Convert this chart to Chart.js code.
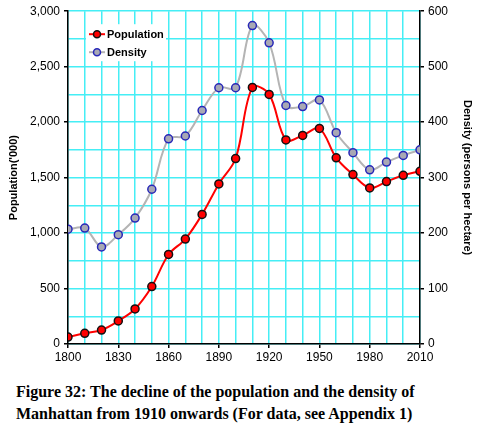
<!DOCTYPE html>
<html>
<head>
<meta charset="utf-8">
<script src="https://cdn.jsdelivr.net/npm/chart.js@4.4.1/dist/chart.umd.min.js"></script>
<style>
  html, body { margin: 0; padding: 0; background: #fff; }
  #wrap { position: relative; width: 486px; height: 366px; }
  #caption {
    position: absolute; left: 16px; top: 381px; margin: 0;
    font-family: 'Liberation Serif', 'DejaVu Serif', serif;
    font-weight: bold; font-size: 16px; line-height: 22px; color: #000;
  }
</style>
</head>
<body>
<div id="wrap"><canvas id="chart"></canvas></div>
<p id="caption">Figure 32: The decline of the population and the density of<br>Manhattan from 1910 onwards (For data, see Appendix 1)</p>
<script>
const years = [1800, 1810, 1820, 1830, 1840, 1850, 1860, 1870, 1880, 1890, 1900,
  1910, 1920, 1930, 1940, 1950, 1960, 1970, 1980, 1990, 2000, 2010];
// thousands of residents
const population = [62, 96, 126, 208, 316, 518, 807, 946, 1168, 1443, 1672,
  2313, 2250, 1840, 1880, 1943, 1678, 1527, 1407, 1464, 1521, 1557];
// persons per hectare
const density = [207, 209, 175, 197, 227, 279, 370, 375, 421, 462, 462,
  574, 543, 430, 428, 440, 381, 345, 314, 328, 340, 350];
const xLabelYears = [1800, 1830, 1860, 1890, 1920, 1950, 1980, 2010];
const popTicks = [0, 500, 1000, 1500, 2000, 2500, 3000];
const densTicks = [0, 100, 200, 300, 400, 500, 600];

const gridCyan = '#45EEF5';
const labelFont = { family: 'Liberation Sans, Arial, sans-serif', size: 12 };

// legend drawn inside the plot area, top-left, on a white box
const innerLegend = {
  id: 'innerLegend',
  afterDatasetsDraw(chart) {
    const ctx = chart.ctx;
    const a = chart.chartArea;
    const x0 = a.left + 18, y0 = a.top + 13;
    ctx.save();
    ctx.fillStyle = '#fff';
    ctx.fillRect(x0, y0, 80, 37);
    const items = [
      { label: 'Population', ds: chart.data.datasets[0], y: y0 + 10 },
      { label: 'Density', ds: chart.data.datasets[1], y: y0 + 28 }
    ];
    items.forEach(it => {
      ctx.strokeStyle = it.ds.borderColor;
      ctx.lineWidth = 2;
      ctx.beginPath();
      ctx.moveTo(x0 + 3, it.y);
      ctx.lineTo(x0 + 19, it.y);
      ctx.stroke();
      ctx.beginPath();
      ctx.arc(x0 + 11, it.y, 3.5, 0, Math.PI * 2);
      ctx.fillStyle = it.ds.pointBackgroundColor;
      ctx.fill();
      ctx.lineWidth = 1.5;
      ctx.strokeStyle = it.ds.pointBorderColor;
      ctx.stroke();
      ctx.fillStyle = '#000';
      ctx.font = 'bold 11px Liberation Sans, Arial, sans-serif';
      ctx.textBaseline = 'middle';
      ctx.fillText(it.label, x0 + 21, it.y + 0.5);
    });
    ctx.restore();
  }
};

new Chart(document.getElementById('chart'), {
  type: 'line',
  data: {
    datasets: [{
      label: 'Population',
      data: years.map((y, i) => ({ x: y, y: population[i] })),
      yAxisID: 'y',
      borderColor: '#FF0000',
      borderWidth: 2,
      pointBackgroundColor: '#FF0000',
      pointBorderColor: '#111',
      pointBorderWidth: 1.5,
      pointRadius: 4,
      tension: 0.35,
      order: 1
    }, {
      label: 'Density',
      data: years.map((y, i) => ({ x: y, y: density[i] })),
      yAxisID: 'y2',
      borderColor: '#B4B4B4',
      borderWidth: 2,
      pointBackgroundColor: '#A8A8B4',
      pointBorderColor: '#2828B8',
      pointBorderWidth: 1.5,
      pointRadius: 4,
      tension: 0.35,
      order: 2
    }]
  },
  options: {
    responsive: true,
    maintainAspectRatio: false,
    animation: false,
    layout: { padding: { top: 8, right: 10, left: 7, bottom: 0 } },
    plugins: { legend: { display: false }, tooltip: { enabled: false } },
    scales: {
      x: {
        type: 'linear',
        min: 1800, max: 2010,
        afterBuildTicks: s => { s.ticks = years.map(v => ({ value: v })); },
        afterFit: s => { s.height = 22; },
        ticks: {
          autoSkip: false, maxRotation: 0, padding: 2,
          color: '#000', font: labelFont,
          callback: v => xLabelYears.includes(v) ? String(v) : ''
        },
        grid: {
          color: gridCyan, lineWidth: 1.5, tickLength: 4,
          tickColor: c => xLabelYears.includes(c.tick && c.tick.value) ? '#000' : 'rgba(0,0,0,0)'
        },
        border: { color: '#000', width: 1.5 }
      },
      y: {
        position: 'left',
        min: 0, max: 3000,
        afterBuildTicks: s => {
          const t = [];
          for (let v = 0; v <= 3000; v += 250) t.push({ value: v });
          s.ticks = t;
        },
        afterFit: s => { s.width = 61; },
        ticks: {
          autoSkip: false, padding: 4,
          color: '#000', font: labelFont,
          callback: v => popTicks.includes(v) ? v.toLocaleString('en-US') : ''
        },
        grid: {
          color: gridCyan, lineWidth: 1.5, tickLength: 4,
          tickColor: c => popTicks.includes(c.tick && c.tick.value) ? '#000' : 'rgba(0,0,0,0)'
        },
        border: { color: '#000', width: 1.5 },
        title: {
          display: true, text: "Population('000)", color: '#000',
          font: { family: 'Liberation Sans, Arial, sans-serif', size: 11, weight: 'bold' },
          padding: { top: 0, bottom: 2 }
        }
      },
      y2: {
        position: 'right',
        min: 0, max: 600,
        afterBuildTicks: s => { s.ticks = densTicks.map(v => ({ value: v })); },
        afterFit: s => { s.width = 56; },
        ticks: {
          autoSkip: false, padding: 4,
          color: '#000', font: labelFont
        },
        grid: { drawOnChartArea: false, color: '#000', tickLength: 4, lineWidth: 1.5 },
        border: { color: '#000', width: 1.5 },
        title: {
          display: true, text: 'Density (persons per hectare)', color: '#000',
          font: { family: 'Liberation Sans, Arial, sans-serif', size: 11, weight: 'bold' },
          padding: { top: 2, bottom: 0 }
        }
      }
    }
  },
  plugins: [innerLegend]
});
</script>
</body>
</html>
